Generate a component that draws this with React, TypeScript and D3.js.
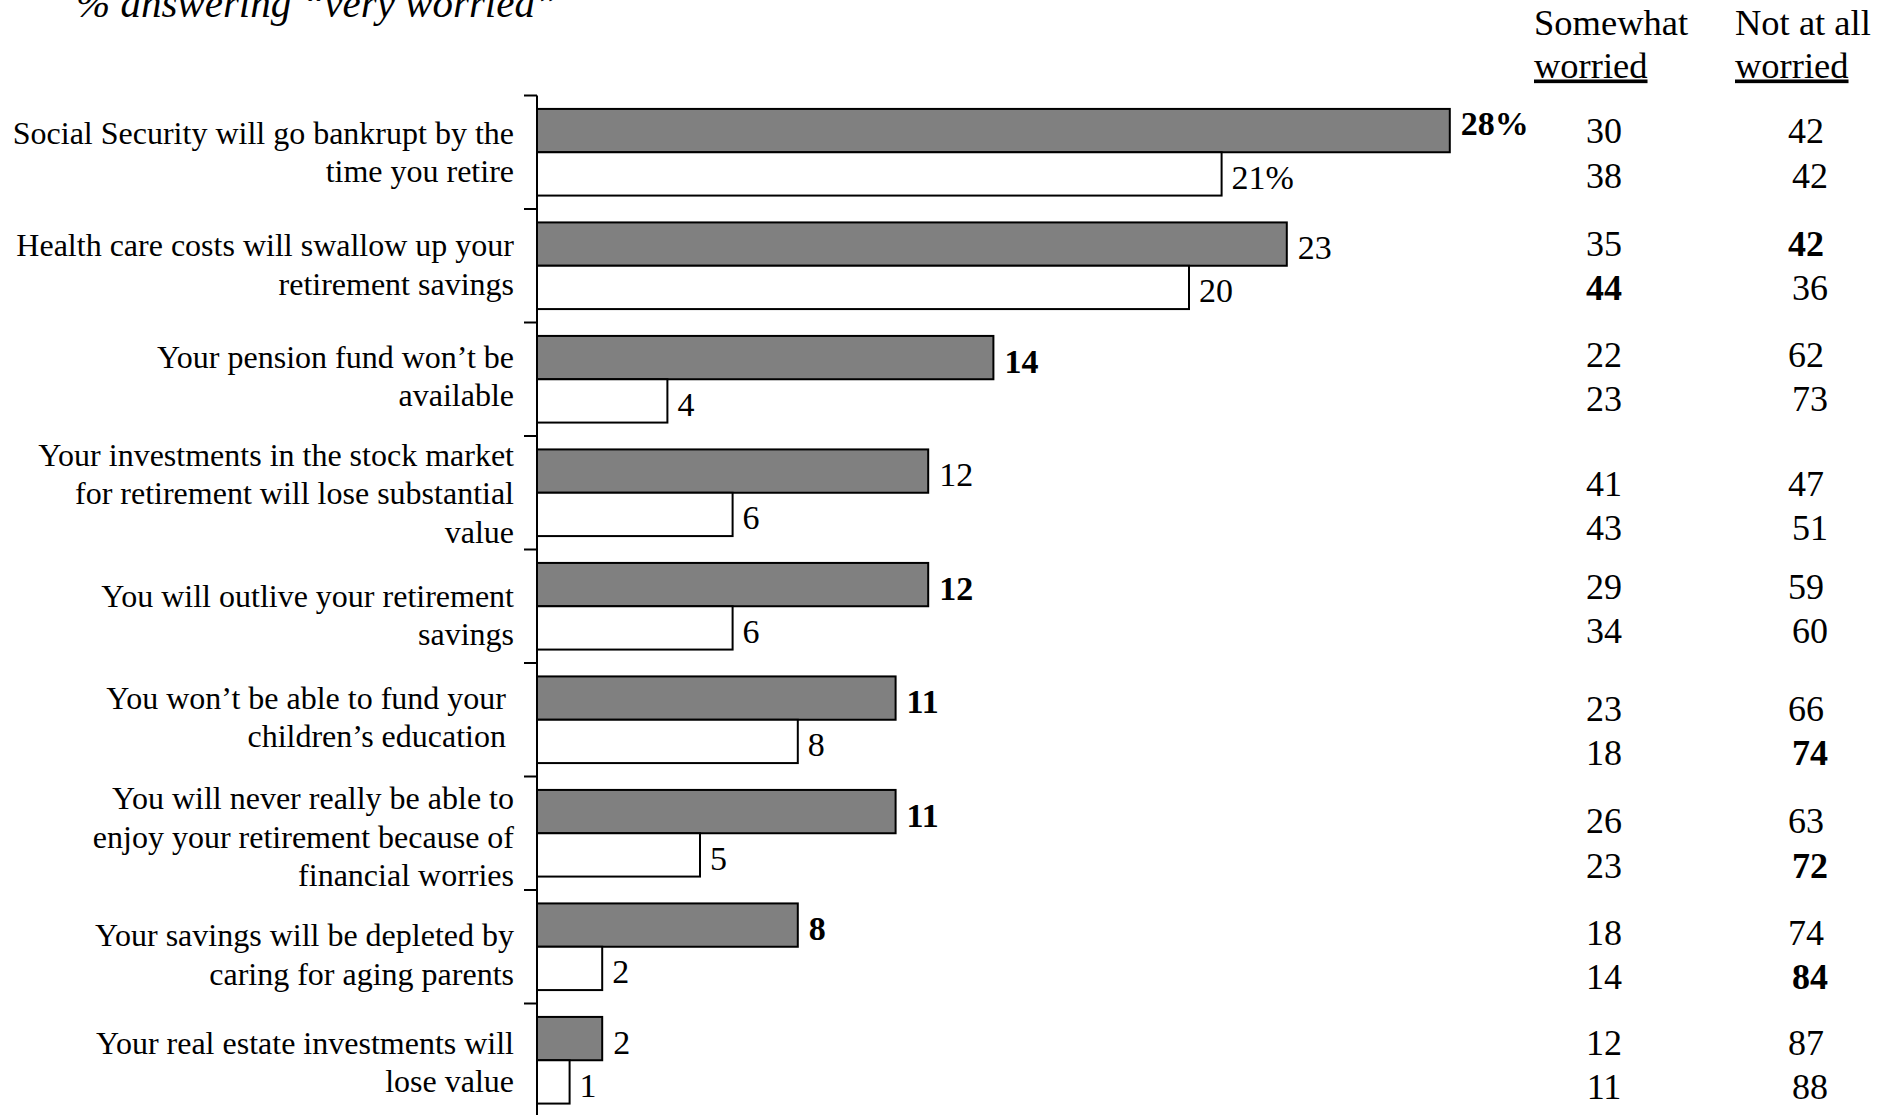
import React from 'react';
import * as d3 from 'd3';

// ---------- data ----------
const categories: string[][] = [
  ['Social Security will go bankrupt by the', 'time you retire'],
  ['Health care costs will swallow up your', 'retirement savings'],
  ['Your pension fund won\u2019t be', 'available'],
  ['Your investments in the stock market', 'for retirement will lose substantial', 'value'],
  ['You will outlive your retirement', 'savings'],
  ['You won\u2019t be able to fund your ', 'children\u2019s education '],
  ['You will never really be able to', 'enjoy your retirement because of', 'financial worries'],
  ['Your savings will be depleted by', 'caring for aging parents'],
  ['Your real estate investments will', 'lose value'],
];
// "very worried" – first (gray) and second (white) bar of each pair
const veryWorriedA = [28, 23, 14, 12, 12, 11, 11, 8, 2];
const veryWorriedB = [21, 20, 4, 6, 6, 8, 5, 2, 1];
const boldLabelA = [true, false, true, false, true, true, true, true, false];
const boldLabelB = [false, false, false, false, false, false, false, false, false];

const somewhatA = [30, 35, 22, 41, 29, 23, 26, 18, 12];
const somewhatB = [38, 44, 23, 43, 34, 18, 23, 14, 11];
const notAtAllA = [42, 42, 62, 47, 59, 66, 63, 74, 87];
const notAtAllB = [42, 36, 73, 51, 60, 74, 72, 84, 88];
const boldSomewhatA = [false, false, false, false, false, false, false, false, false];
const boldSomewhatB = [false, true, false, false, false, false, false, false, false];
const boldNotAtAllA = [false, true, false, false, false, false, false, false, false];
const boldNotAtAllB = [false, false, false, false, false, true, true, true, false];

const title = '% answering \u201cvery worried\u201d';
const headerSomewhat = ['Somewhat', 'worried'];
const headerNotAtAll = ['Not at all', 'worried'];

// ---------- layout (not data) ----------
const W = 1895;
const H = 1115;
const FONT = '"Liberation Serif", "Times New Roman", Times, serif';
const labelNudge = [0, -1, -3, 1, 9, -2.5, 4, 8, 2];
const tableRowOffset = [35, 34, 31.5, 47, 36.5, 45, 44, 42, 38.5];
const valueLabelDyA = [-11, 0, 0, 0, 0, 0, 0, 0, 0];

export default function App() {
  const idx = categories.map((_, i) => i);
  const top = 95.5;
  const band = 113.5;
  const y = d3.scaleBand<number>().domain(idx).range([top, top + band * idx.length]).paddingInner(0).paddingOuter(0);
  const sub = d3.scaleBand<string>().domain(['a', 'b']).range([0, y.bandwidth()]).paddingInner(0).paddingOuter(0.31);
  const x0 = 537;
  const x = d3.scaleLinear().domain([0, 30]).range([x0, x0 + 30 * 32.6]);

  const colSomewhat = 1604;
  const colNotAtAll = 1806;

  return (
    <svg width={W} height={H} style={{ position: 'absolute', left: 0, top: 0, display: 'block', background: '#fff' }} fontFamily={FONT}>
      <rect x={0} y={0} width={W} height={H} fill="#fff" />
      {/* title */}
      <text x={76} y={17} fontSize={41} fontStyle="italic" fill="#000">{title}</text>

      {/* headers */}
      {headerSomewhat.map((t, i) => (
        <text key={'hs' + i} x={1534} y={35 + i * 42.5} fontSize={36.5} textDecoration={i === 1 ? 'underline' : undefined} fill="#000">{t}</text>
      ))}
      {headerNotAtAll.map((t, i) => (
        <text key={'hn' + i} x={1735} y={35 + i * 42.5} fontSize={36.5} textDecoration={i === 1 ? 'underline' : undefined} fill="#000">{t}</text>
      ))}

      {/* axis */}
      <line x1={x0} x2={x0} y1={top} y2={H + 5} stroke="#000" strokeWidth={2} />
      {idx.map((i) => (
        <line key={'t' + i} x1={x0 - 13} x2={x0} y1={y(i)!} y2={y(i)!} stroke="#000" strokeWidth={2} />
      ))}

      {idx.map((i) => {
        const by = y(i)!;
        const ya = by + sub('a')!;
        const yb = by + sub('b')!;
        const bh = sub.bandwidth();
        const lines = categories[i];
        const lh = 38.5;
        const mid = by + band / 2 + labelNudge[i];
        const firstCenter = mid - ((lines.length - 1) * lh) / 2;
        const rowY = by + tableRowOffset[i];
        const suffix = i === 0 ? '%' : '';
        return (
          <g key={'g' + i}>
            {lines.map((ln, k) => (
              <text key={k} x={514} y={firstCenter + k * lh + 10.5} fontSize={32} textAnchor="end" style={{ whiteSpace: 'pre' }} fill="#000">{ln}</text>
            ))}
            <rect x={x(0)} y={ya} width={x(veryWorriedA[i]) - x(0)} height={bh} fill="#808080" stroke="#000" strokeWidth={2} />
            <rect x={x(0)} y={yb} width={x(veryWorriedB[i]) - x(0)} height={bh} fill="#fff" stroke="#000" strokeWidth={2} />
            <text x={x(veryWorriedA[i]) + 11} y={ya + bh / 2 + 15 + valueLabelDyA[i]} fontSize={34} fontWeight={boldLabelA[i] ? 'bold' : 'normal'} fill="#000">{veryWorriedA[i] + suffix}</text>
            <text x={x(veryWorriedB[i]) + 10} y={yb + bh / 2 + 15} fontSize={34} fontWeight={boldLabelB[i] ? 'bold' : 'normal'} fill="#000">{veryWorriedB[i] + suffix}</text>

            <text x={colSomewhat} y={rowY + 12.5} fontSize={36} textAnchor="middle" fontWeight={boldSomewhatA[i] ? 'bold' : 'normal'} fill="#000">{somewhatA[i]}</text>
            <text x={colSomewhat} y={rowY + 44.6 + 12.5} fontSize={36} textAnchor="middle" fontWeight={boldSomewhatB[i] ? 'bold' : 'normal'} fill="#000">{somewhatB[i]}</text>
            <text x={colNotAtAll} y={rowY + 12.5} fontSize={36} textAnchor="middle" fontWeight={boldNotAtAllA[i] ? 'bold' : 'normal'} fill="#000">{notAtAllA[i]}</text>
            <text x={colNotAtAll + 4} y={rowY + 44.6 + 12.5} fontSize={36} textAnchor="middle" fontWeight={boldNotAtAllB[i] ? 'bold' : 'normal'} fill="#000">{notAtAllB[i]}</text>
          </g>
        );
      })}
    </svg>
  );
}
